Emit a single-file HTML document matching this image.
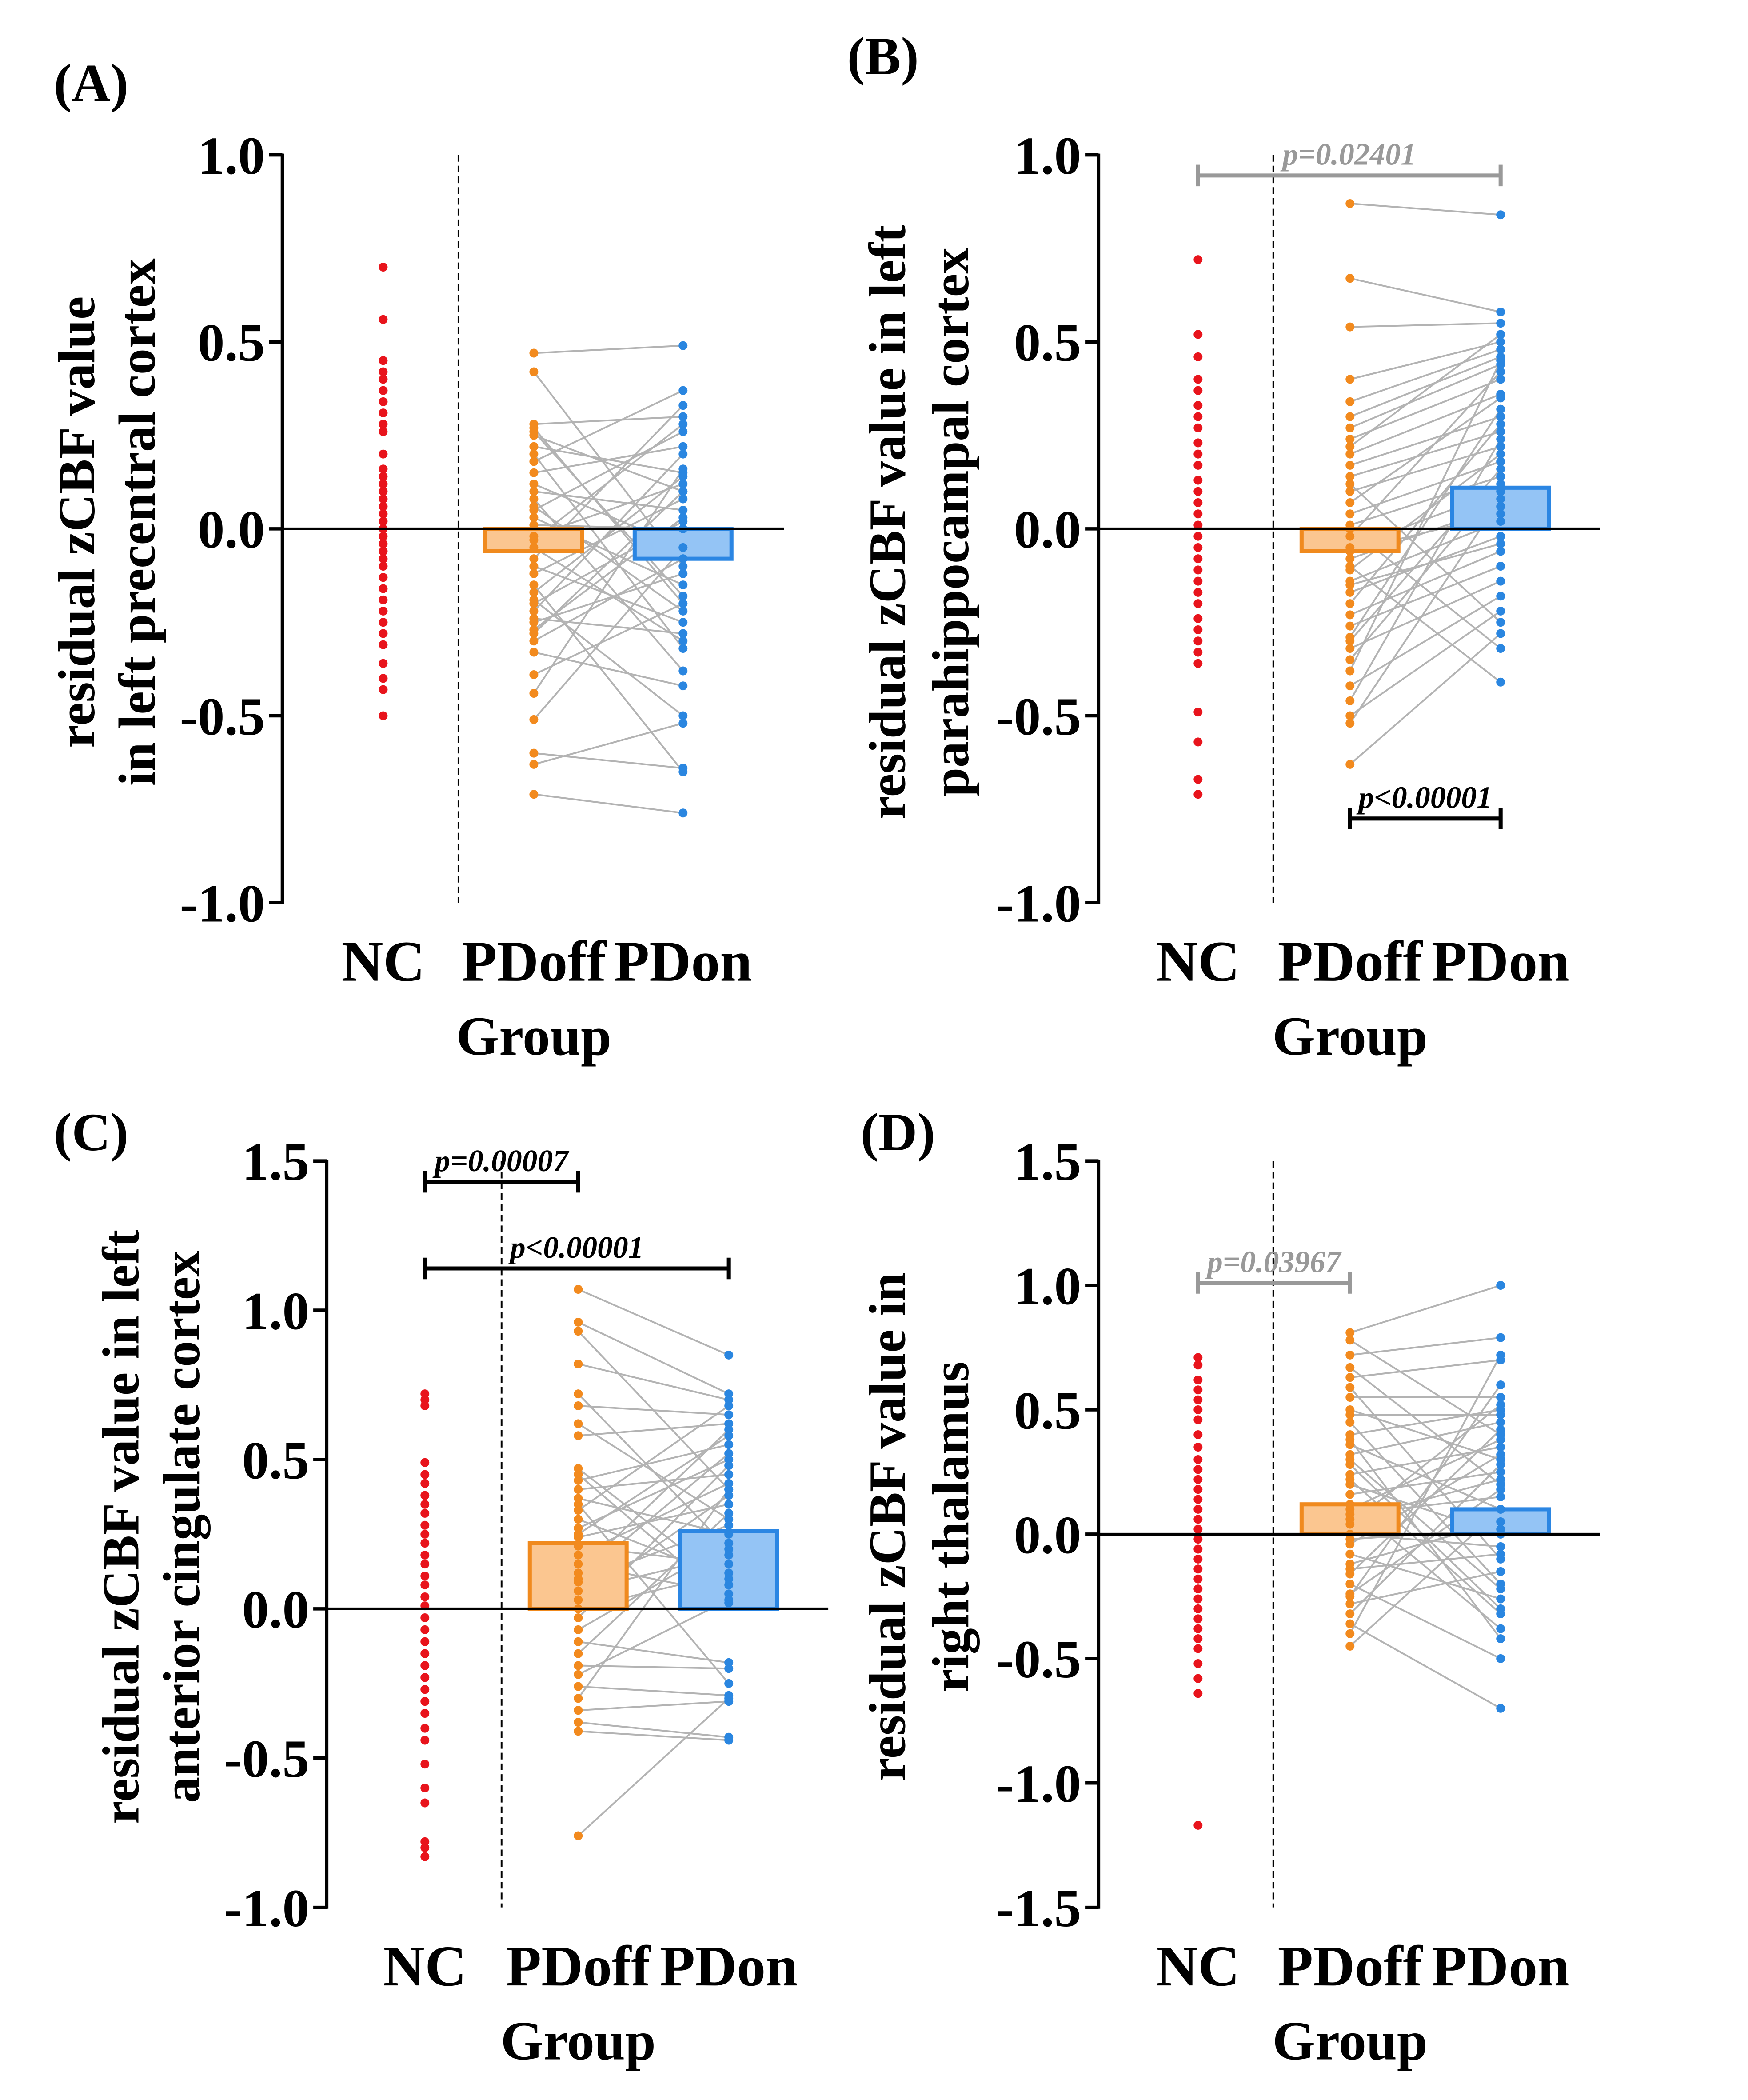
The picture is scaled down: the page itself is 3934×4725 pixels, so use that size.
<!DOCTYPE html>
<html><head><meta charset="utf-8">
<style>
html,body{margin:0;padding:0;background:#fff;}
svg{display:block;font-family:"Liberation Serif",serif;font-weight:bold;}
</style></head>
<body>
<svg id="fig" width="3934" height="4725" viewBox="0 0 1300 1561" xmlns="http://www.w3.org/2000/svg">
<rect width="1300" height="1561" fill="#fff"/>
</svg>
<script>
const categories = ["NC","PDoff","PDon"];
// Panel A
const aNC = [0.70,0.56,0.45,0.42,0.40,0.37,0.34,0.31,0.28,0.26,0.20,0.16,0.14,0.12,0.10,0.08,0.06,0.04,0.02,0.0,-0.02,-0.04,-0.06,-0.08,-0.10,-0.13,-0.16,-0.19,-0.22,-0.25,-0.28,-0.31,-0.36,-0.40,-0.43,-0.50];
const aOff = [0.47,0.42,0.28,0.27,0.25,0.22,0.20,0.18,0.15,0.12,0.10,0.08,0.05,0.03,0.01,-0.02,-0.05,-0.08,-0.10,-0.12,-0.15,-0.17,-0.19,-0.22,-0.25,-0.27,-0.30,-0.33,-0.39,-0.44,-0.51,-0.60,-0.63,-0.71,0.26,0.06,-0.03,-0.20,-0.24,-0.28];
const aOn = [0.49,-0.10,0.30,-0.20,0.10,0.15,-0.32,0.37,0.22,-0.05,0.05,-0.38,0.26,-0.15,0.00,0.12,-0.30,0.33,-0.25,0.08,-0.65,0.14,-0.50,0.20,-0.12,0.03,-0.08,-0.42,-0.20,0.16,-0.05,-0.64,-0.52,-0.76,-0.18,-0.22,0.28,0.02,-0.28,0.10];
const aBars = [-0.06,-0.08];
// Panel B
const bNC = [0.72,0.52,0.46,0.40,0.37,0.33,0.30,0.27,0.23,0.20,0.17,0.13,0.10,0.07,0.04,0.01,-0.02,-0.05,-0.08,-0.11,-0.14,-0.17,-0.20,-0.24,-0.27,-0.30,-0.33,-0.36,-0.49,-0.57,-0.67,-0.71];
const bOff = [0.87,0.67,0.54,0.40,0.34,0.30,0.27,0.24,0.20,0.17,0.14,0.10,0.07,0.04,0.01,-0.02,-0.05,-0.08,-0.11,-0.14,-0.17,-0.20,-0.23,-0.26,-0.29,-0.32,-0.35,-0.38,-0.42,-0.46,-0.50,-0.52,-0.63,0.00,-0.10,0.22,-0.15,-0.30,0.12,-0.06];
const bOn = [0.84,0.58,0.55,0.50,0.48,0.46,0.44,0.40,0.36,0.30,0.26,0.22,0.35,0.18,0.14,0.42,0.10,0.06,0.20,0.02,-0.02,0.28,-0.06,-0.10,0.32,-0.14,0.12,0.45,-0.18,0.24,-0.22,0.08,-0.28,-0.32,-0.41,0.52,-0.04,0.16,-0.25,0.04];
const bBars = [-0.06,0.11];
// Panel C
const cNC = [0.72,0.70,0.68,0.49,0.45,0.42,0.38,0.35,0.32,0.28,0.25,0.22,0.18,0.15,0.11,0.08,0.04,0.01,-0.03,-0.07,-0.11,-0.15,-0.19,-0.23,-0.27,-0.31,-0.35,-0.40,-0.44,-0.52,-0.60,-0.65,-0.78,-0.80,-0.83];
const cOff = [1.07,0.96,0.93,0.82,0.72,0.68,0.62,0.58,0.47,0.43,0.40,0.37,0.33,0.30,0.27,0.24,0.21,0.18,0.15,0.12,0.09,0.06,0.03,0.00,-0.03,-0.07,-0.11,-0.15,-0.19,-0.22,-0.26,-0.30,-0.34,-0.38,-0.41,-0.76,0.25,0.45,0.10,0.35];
const cOn = [0.85,0.72,0.40,0.70,0.20,0.65,0.30,0.62,0.08,0.55,0.45,0.25,0.68,0.10,0.50,0.35,0.15,0.42,0.05,0.60,0.28,0.18,0.38,0.12,0.48,0.22,-0.18,0.32,-0.20,0.03,-0.29,0.40,-0.31,-0.43,-0.44,-0.30,0.58,0.02,0.52,-0.25];
const cBars = [0.22,0.26];
// Panel D
const dNC = [0.71,0.68,0.62,0.58,0.54,0.50,0.46,0.40,0.35,0.30,0.26,0.22,0.18,0.14,0.10,0.06,0.02,-0.02,-0.06,-0.10,-0.14,-0.18,-0.22,-0.26,-0.30,-0.34,-0.38,-0.42,-0.46,-0.52,-0.58,-0.64,-1.17];
const dOff = [0.81,0.78,0.72,0.67,0.63,0.59,0.55,0.50,0.45,0.40,0.36,0.32,0.28,0.24,0.20,0.16,0.12,0.08,0.04,0.00,-0.04,-0.08,-0.12,-0.16,-0.20,-0.24,-0.28,-0.32,-0.36,-0.40,-0.45,0.30,0.10,-0.02,0.22,0.48,-0.14,0.06,0.38,-0.25];
const dOn = [1.00,0.40,0.79,0.20,0.70,-0.10,0.55,0.30,-0.20,0.50,0.10,0.45,-0.30,0.35,0.00,0.25,-0.38,0.15,0.52,-0.05,0.32,-0.26,0.05,0.42,-0.50,0.18,-0.15,0.28,-0.70,0.72,0.10,-0.22,0.38,0.02,-0.32,0.48,-0.08,0.22,-0.42,0.60];
const dBars = [0.12,0.10];
const ticksAB = ["1.0","0.5","0.0","-0.5","-1.0"];
const ticksC = ["1.5","1.0","0.5","0.0","-0.5","-1.0"];
const ticksD = ["1.5","1.0","0.5","0.0","-0.5","-1.0","-1.5"];

const NS="http://www.w3.org/2000/svg";
const svg=document.getElementById('fig');
function mk(tag,attrs,parent){const e=document.createElementNS(NS,tag);for(const k in attrs)e.setAttribute(k,attrs[k]);(parent||svg).appendChild(e);return e;}
function txt(s,attrs,parent){const e=mk('text',attrs,parent);e.textContent=s;return e;}

function panel(cfg){
  const g=mk('g',{});
  
  
  const y=v=>cfg.y0+(cfg.max-v)/(cfg.max-cfg.min)*(cfg.y1-cfg.y0);
  const xs=cfg.xs;
  const pl=txt('('+cfg.id+')',{x:cfg.lx,y:cfg.ly,'font-size':40},g);
  
  
  const dl=mk('line',{x1:cfg.dash,x2:cfg.dash,y1:cfg.y0,y2:cfg.y1,stroke:'#000','stroke-width':1.3,'stroke-dasharray':'5,3'},g);
  
  
  for(let i=0;i<cfg.off.length;i++){
    const l=mk('line',{x1:xs[1],y1:y(cfg.off[i]),x2:xs[2],y2:y(cfg.on[i]),stroke:'#b3b3b3','stroke-width':1.3},g);
    
    
  }
  const bw=72, fills=['#fbc690','#94c4f5'], strokes=['#f08a1e','#2b86e3'];
  cfg.bars.forEach((v,i)=>{
    const top=Math.min(y(v),y(0)),h=Math.abs(y(v)-y(0));
    const r=mk('rect',{x:xs[i+1]-bw/2,y:top,width:bw,height:h,fill:fills[i],stroke:strokes[i],'stroke-width':3},g);
    
    
  });
  const sets=[[cfg.nc,'#e8141c',0],[cfg.off,'#f28a1e',1],[cfg.on,'#2a86e0',2]];
  sets.forEach(([arr,col,ci])=>{arr.forEach(v=>{
    const c=mk('circle',{cx:xs[ci],cy:y(v),r:3.3,fill:col},g);
    
    
  });});
  const zl=mk('line',{x1:cfg.ax,x2:cfg.ax+373,y1:y(0),y2:y(0),stroke:'#000','stroke-width':2},g);
  
  
  const ya=mk('line',{x1:cfg.ax,x2:cfg.ax,y1:cfg.y0-1,y2:cfg.y1+1,stroke:'#000','stroke-width':2.5},g);
  
  
  const n=cfg.ticks.length;
  cfg.ticks.forEach((t,i)=>{
    const ty=cfg.y0+i*(cfg.y1-cfg.y0)/(n-1);
    const tk=mk('line',{x1:cfg.ax-10,x2:cfg.ax,y1:ty,y2:ty,stroke:'#000','stroke-width':2.5},g);
    
    
    const tl=txt(t,{x:cfg.ax-13,y:ty+14,'font-size':40,'text-anchor':'end'},g);
    
    
  });
  categories.forEach((c,i)=>{
    const cl=txt(c,{x:xs[i],y:cfg.y1+58,'font-size':43,'text-anchor':'middle'},g);
    
    
  });
  const gx=txt('Group',{x:xs[1],y:cfg.y1+113,'font-size':41,'text-anchor':'middle'},g);
  
  
  cfg.title.forEach((s,i)=>{
    const tx=cfg.tx[i];
    const yt=txt(s,{x:0,y:0,'font-size':39,'text-anchor':'middle',transform:`translate(${tx},${cfg.ty}) rotate(-90)`},g);
    
    
  });
  cfg.sig.forEach(s=>{
    const col=s.gray?'#999':'#000';
    const by=y(s.v);
    const b=mk('path',{d:`M${xs[s.a]},${by-8}V${by+8}M${xs[s.a]},${by}H${xs[s.b]}M${xs[s.b]},${by-8}V${by+8}`,stroke:col,'stroke-width':3,fill:'none'},g);
    
    
    const st=txt(s.t,{x:(xs[s.a]+xs[s.b])/2+(s.dx||0),y:by-8,'font-size':23,'font-style':'italic','text-anchor':'middle',fill:col},g);
    
    
  });
}

panel({id:'A',lx:40,ly:75,ax:210,y0:115,y1:671,max:1,min:-1,xs:[285,397,508],dash:341,nc:aNC,off:aOff,on:aOn,bars:aBars,ticks:ticksAB,
  title:['residual zCBF value','in left precentral cortex'],tx:[70,115],ty:388,sig:[]});
panel({id:'B',lx:630,ly:55,ax:817,y0:115,y1:671,max:1,min:-1,xs:[891,1004,1116],dash:947,nc:bNC,off:bOff,on:bOn,bars:bBars,ticks:ticksAB,
  title:['residual zCBF value in left','parahippocampal cortex'],tx:[673,720],ty:388,
  sig:[{a:0,b:2,v:0.945,t:'p=0.02401',gray:true},{a:1,b:2,v:-0.775,t:'p<0.00001'}]});
panel({id:'C',lx:40,ly:855,ax:243,y0:863,y1:1418,max:1.5,min:-1,xs:[316,430,542],dash:373,nc:cNC,off:cOff,on:cOn,bars:cBars,ticks:ticksC,
  title:['residual zCBF value in left','anterior cingulate cortex'],tx:[103,148],ty:1135,
  sig:[{a:0,b:1,v:1.43,t:'p=0.00007'},{a:0,b:2,v:1.14,t:'p<0.00001'}]});
panel({id:'D',lx:640,ly:855,ax:817,y0:863,y1:1418,max:1.5,min:-1.5,xs:[891,1004,1116],dash:947,nc:dNC,off:dOff,on:dOn,bars:dBars,ticks:ticksD,
  title:['residual zCBF value in','right thalamus'],tx:[673,720],ty:1135,
  sig:[{a:0,b:1,v:1.01,t:'p=0.03967',gray:true}]});
</script>
</body></html>
